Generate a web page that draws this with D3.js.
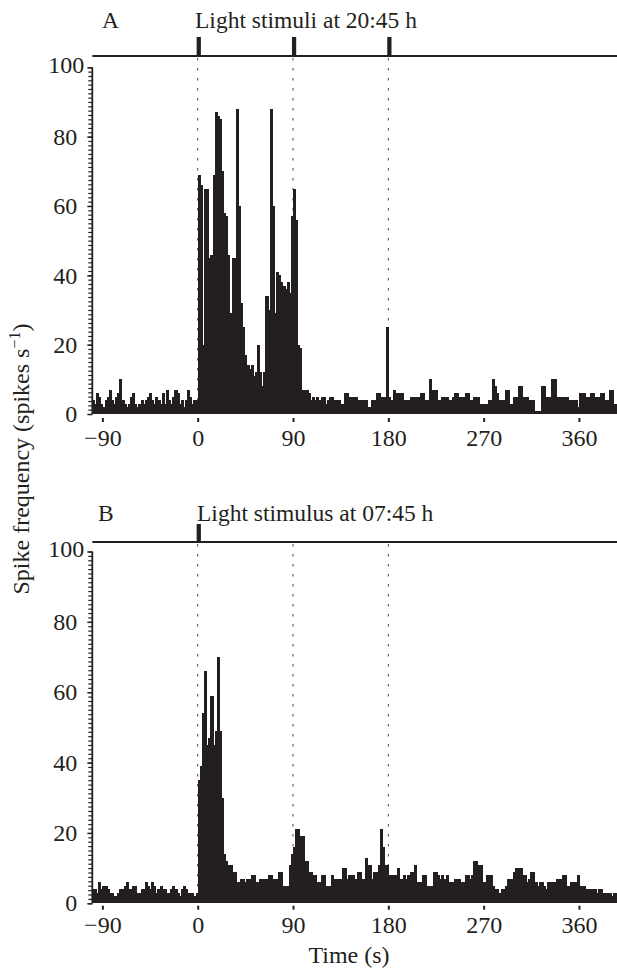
<!DOCTYPE html>
<html>
<head>
<meta charset="utf-8">
<script src="https://cdn.jsdelivr.net/npm/d3@7"></script>
<style>
  html, body { margin: 0; padding: 0; background: #fff; }
  svg { display: block; }
  text { font-family: "Liberation Serif", "Times New Roman", serif; fill: #231f20; }
</style>
</head>
<body>
<svg id="chart" width="617" height="970"></svg>
<script>
// Peri-stimulus spike histograms, 2 s bins starting at -100 s
const binStart = -100;
const binWidth = 2;
const timeTicks = [-90, 0, 90, 180, 270, 360];
const timeTickLabels = ["\u221290", "0", "90", "180", "270", "360"];
const freqTicks = [0, 20, 40, 60, 80, 100];
const markerTimes = [0, 90, 180];
const stimulusTimesA = [0, 90, 180];
const stimulusTimesB = [0];
const titleA = "Light stimuli at 20:45 h";
const titleB = "Light stimulus at 07:45 h";

// Spike frequency (spikes s-1), one value per bin
const ratesA = [
  4, 3, 6, 5, 3, 2, 4, 5, 7, 4,
  3, 5, 6, 10, 4, 3, 2, 3, 5, 6,
  3, 2, 3, 4, 3, 4, 5, 6, 4, 3,
  5, 4, 3, 6, 3, 7, 4, 3, 5, 7,
  6, 3, 4, 2, 4, 7, 5, 3, 4, 4,
  69, 66, 20, 65, 65, 45, 46, 69, 87, 86,
  85, 70, 58, 57, 46, 29, 45, 45, 88, 60,
  32, 25, 17, 14, 13, 14, 11, 12, 20, 12,
  8, 12, 34, 30, 88, 60, 29, 41, 40, 38,
  37, 36, 38, 35, 57, 65, 56, 20, 19, 7,
  7, 7, 6, 4, 5, 4, 5, 4, 5, 5,
  3, 4, 5, 5, 4, 4, 4, 3, 3, 6,
  6, 5, 5, 5, 5, 4, 4, 4, 4, 4,
  2, 2, 4, 4, 6, 6, 5, 5, 5, 25,
  5, 4, 7, 6, 6, 6, 6, 4, 4, 4,
  5, 5, 5, 5, 5, 6, 6, 4, 4, 10,
  7, 7, 7, 4, 4, 5, 5, 5, 4, 4,
  5, 6, 6, 5, 5, 5, 6, 6, 4, 4,
  5, 5, 5, 3, 3, 3, 3, 4, 4, 10,
  8, 6, 4, 4, 4, 7, 7, 3, 3, 5,
  5, 8, 8, 5, 5, 5, 4, 4, 4, 1,
  1, 1, 8, 8, 5, 5, 5, 10, 10, 5,
  5, 5, 5, 5, 5, 4, 4, 4, 4, 2,
  6, 6, 6, 5, 5, 6, 6, 5, 5, 5,
  6, 6, 4, 4, 7, 7, 3, 3, 3, 3
];

const ratesB = [
  4, 4, 3, 6, 4, 5, 5, 4, 3, 3,
  2, 2, 3, 4, 4, 5, 6, 4, 4, 5,
  5, 3, 3, 4, 4, 6, 5, 4, 6, 5,
  3, 4, 5, 4, 4, 3, 3, 4, 5, 4,
  3, 2, 4, 5, 4, 3, 3, 3, 2, 3,
  35, 39, 54, 66, 45, 47, 59, 45, 49, 70,
  49, 30, 14, 12, 11, 11, 9, 9, 6, 6,
  7, 7, 6, 7, 7, 8, 8, 6, 6, 7,
  7, 7, 7, 8, 8, 7, 7, 7, 9, 9,
  5, 5, 5, 11, 14, 16, 21, 21, 19, 19,
  12, 12, 9, 9, 8, 8, 6, 6, 8, 8,
  5, 5, 5, 8, 7, 7, 7, 7, 10, 10,
  7, 8, 8, 8, 7, 9, 9, 7, 7, 13,
  11, 11, 7, 9, 9, 11, 21, 16, 11, 11,
  8, 8, 8, 8, 10, 7, 7, 8, 7, 8,
  9, 9, 11, 6, 6, 6, 8, 8, 5, 5,
  5, 9, 9, 8, 7, 8, 7, 8, 6, 6,
  6, 7, 7, 7, 6, 6, 8, 8, 7, 8,
  12, 12, 11, 11, 6, 6, 8, 8, 8, 5,
  4, 4, 3, 4, 4, 5, 7, 7, 7, 9,
  10, 10, 10, 8, 8, 6, 7, 9, 9, 6,
  5, 6, 6, 5, 4, 6, 6, 6, 6, 7,
  7, 7, 8, 8, 5, 5, 6, 6, 6, 8,
  5, 5, 5, 4, 4, 4, 4, 4, 3, 4,
  4, 3, 3, 3, 3, 2, 3, 3, 4, 4
];

const ink = "#231f20";
const svg = d3.select("#chart");
const x = d3.scaleLinear().domain([-100, 400]).range([91.8, 621.3]);
const axisX = 92.3;

function drawPanel(cfg) {
  const y = d3.scaleLinear().domain([0, 100]).range([cfg.base, cfg.top]);
  const g = svg.append("g");

  // dotted guides at stimulus times (behind the histogram)
  g.selectAll("line.guide").data(markerTimes).join("line")
    .attr("class", "guide")
    .attr("x1", d => x(d)).attr("x2", d => x(d))
    .attr("y1", cfg.traceY + 2).attr("y2", cfg.base)
    .attr("stroke", "#444").attr("stroke-width", 1)
    .attr("stroke-dasharray", "2.5,7.5");

  // stimulus trace
  g.append("line")
    .attr("x1", axisX).attr("x2", 617)
    .attr("y1", cfg.traceY).attr("y2", cfg.traceY)
    .attr("stroke", ink).attr("stroke-width", 2);
  g.selectAll("rect.pulse").data(cfg.stimuli).join("rect")
    .attr("class", "pulse")
    .attr("x", d => x(d - 1))
    .attr("width", d => x(d + 3) - x(d - 1))
    .attr("y", cfg.pulseTop)
    .attr("height", cfg.traceY + 1 - cfg.pulseTop)
    .attr("fill", ink);

  // histogram bars (slightly overlapped so neighbouring bins read as one solid mass)
  const bins = cfg.rates.map((v, i) => ({ t: binStart + i * binWidth, v }));
  g.append("g").attr("shape-rendering", "crispEdges")
    .selectAll("rect.bar").data(bins).join("rect")
    .attr("class", "bar")
    .attr("x", d => x(d.t))
    .attr("width", d => x(d.t + binWidth) - x(d.t) + 1)
    .attr("y", d => y(d.v))
    .attr("height", d => y(0) - y(d.v))
    .attr("fill", ink);

  // y axis: dense minor ticks plus labelled major ticks
  const minor = d3.range(0, 100.001, 1.25);
  const yMinor = g.append("g").attr("transform", `translate(${axisX},0)`)
    .call(d3.axisLeft(y).tickValues(minor).tickSize(4).tickFormat(""));
  yMinor.select(".domain").attr("stroke", ink).attr("stroke-width", 1.8)
    .attr("d", `M0,${y(0)}V${y(100)}`);
  yMinor.selectAll(".tick line").attr("stroke", ink).attr("stroke-width", 1.2);

  const yMajor = g.append("g").attr("transform", `translate(${axisX},0)`)
    .call(d3.axisLeft(y).tickValues(freqTicks).tickSize(5).tickPadding(10));
  yMajor.select(".domain").remove();
  yMajor.selectAll(".tick line").attr("stroke", ink).attr("stroke-width", 1.4);
  yMajor.selectAll(".tick text")
    .attr("font-size", 24)
    .attr("font-family", "Liberation Serif, Times New Roman, serif")
    .attr("fill", ink)
    .attr("x", d => d === 100 ? -8 : -15)
    .attr("dy", d => d === 100 ? "0.22em" : "0.32em");

  // x axis: short ticks below the baseline, no axis line
  const xAxis = g.append("g").attr("transform", `translate(0,${cfg.xTickY})`)
    .call(d3.axisBottom(x).tickValues(timeTicks).tickSize(4).tickPadding(cfg.xPad)
      .tickFormat((d, i) => timeTickLabels[i]));
  xAxis.select(".domain").remove();
  xAxis.selectAll(".tick line").attr("stroke", ink).attr("stroke-width", 2);
  xAxis.selectAll(".tick text")
    .attr("font-size", 24)
    .attr("font-family", "Liberation Serif, Times New Roman, serif")
    .attr("fill", ink);

  // panel letter and title
  g.append("text").attr("x", cfg.letterX).attr("y", cfg.titleY)
    .attr("font-size", 23.5).text(cfg.letter);
  g.append("text").attr("x", cfg.titleX).attr("y", cfg.titleY)
    .attr("font-size", 23.5).text(cfg.title);
}

drawPanel({
  rates: ratesA, stimuli: stimulusTimesA, letter: "A", title: titleA,
  base: 414, top: 67.3, traceY: 56, pulseTop: 37,
  xTickY: 418, xPad: 7, letterX: 102, titleX: 195, titleY: 27.5
});

drawPanel({
  rates: ratesB, stimuli: stimulusTimesB, letter: "B", title: titleB,
  base: 903.3, top: 551.5, traceY: 542, pulseTop: 524,
  xTickY: 905.7, xPad: 6.3, letterX: 98, titleX: 197, titleY: 520.7
});

// shared axis titles
const yTitle = svg.append("text")
  .attr("transform", "translate(29,459) rotate(-90)")
  .attr("text-anchor", "middle")
  .attr("font-size", 24);
yTitle.append("tspan").text("Spike frequency (spikes s");
yTitle.append("tspan").attr("font-size", 16).attr("dy", -9).text("\u22121");
yTitle.append("tspan").attr("dy", 9).text(")");

svg.append("text")
  .attr("x", 349).attr("y", 963)
  .attr("text-anchor", "middle")
  .attr("font-size", 24)
  .text("Time (s)");
</script>
</body>
</html>
